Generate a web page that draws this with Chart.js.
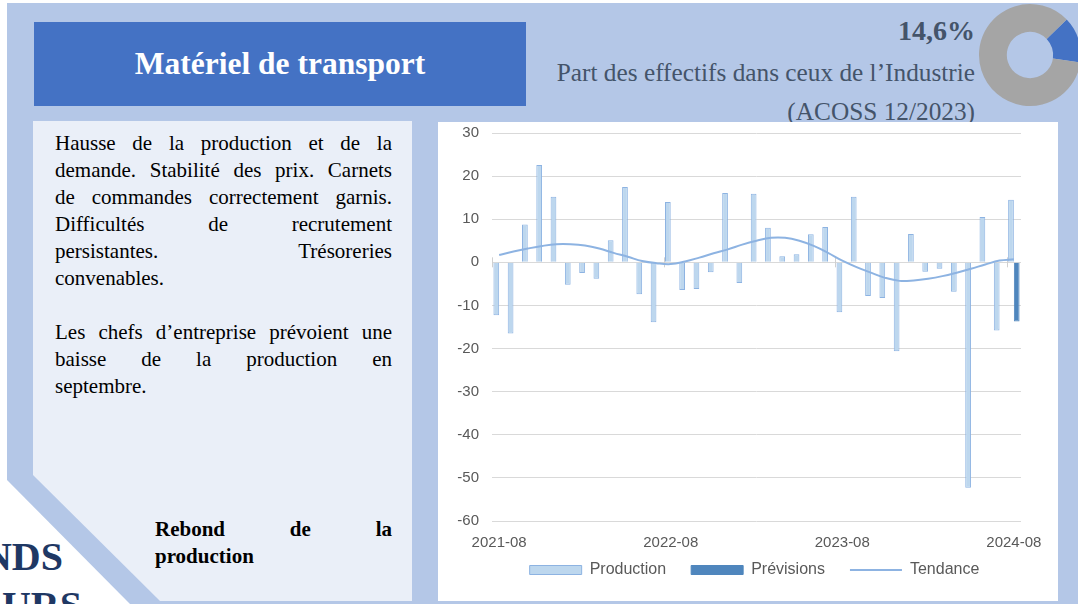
<!DOCTYPE html>
<html>
<head>
<meta charset="utf-8">
<script src="https://cdn.jsdelivr.net/npm/chart.js@4.4.1/dist/chart.umd.min.js"></script>
<style>
html,body{margin:0;padding:0;width:1078px;height:604px;overflow:hidden;background:#ffffff;}
body{position:relative;}
.abs{position:absolute;}
#panel{left:7px;top:3px;width:1071px;height:601px;background:#b4c7e7;
  clip-path:polygon(0 0,100% 0,100% 100%,123px 100%,0 477px);}
#textbox{left:33px;top:121px;width:379px;height:480px;background:#eaeff8;
  clip-path:polygon(0 0,100% 0,100% 100%,127px 100%,0 354px);}
#titlebox{left:34px;top:22px;width:492px;height:84px;background:#4472c4;color:#fff;
  font-family:"Liberation Serif",serif;font-weight:bold;font-size:31.5px;
  display:flex;align-items:center;justify-content:center;}
.serif{font-family:"Liberation Serif",serif;}
.rt{right:103px;text-align:right;white-space:nowrap;color:#44546a;}
.line{font-family:"Liberation Serif",serif;font-size:21px;line-height:27px;height:27px;color:#000;
  text-align:justify;text-align-last:justify;white-space:nowrap;}
.last{text-align:left;text-align-last:left;}
#body1{left:55px;top:130px;width:337px;}
#body2{left:155px;top:516px;width:237px;}
#body2 .line{font-weight:bold;}
#chartbox{left:438px;top:122px;width:620px;height:479px;background:#ffffff;}
.big{font-family:"Liberation Serif",serif;font-weight:bold;font-size:40px;line-height:40px;color:#1f3864;
  white-space:nowrap;text-align:right;}
</style>
</head>
<body>
<div class="abs big" style="right:1015px;top:537px;">GRANDS</div>
<div class="abs big" style="right:996px;top:586px;">SECTEURS</div>
<div id="panel" class="abs"></div>
<div id="textbox" class="abs"></div>
<div id="titlebox" class="abs">Matériel de transport</div>
<div class="abs serif rt" style="top:15px;font-size:28px;line-height:32px;font-weight:bold;">14,6%</div>
<div class="abs serif rt" style="top:57px;font-size:25.3px;line-height:30px;">Part des effectifs dans ceux de l’Industrie</div>
<div class="abs serif rt" style="top:96px;font-size:25.3px;line-height:30px;">(ACOSS 12/2023)</div>
<canvas id="donut" class="abs" width="110" height="110" style="left:975px;top:0px;width:110px;height:110px;"></canvas>

<div id="body1" class="abs">
  <div class="line">Hausse de la production et de la</div>
  <div class="line">demande. Stabilité des prix. Carnets</div>
  <div class="line">de commandes correctement garnis.</div>
  <div class="line">Difficultés de recrutement</div>
  <div class="line">persistantes. Trésoreries</div>
  <div class="line last">convenables.</div>
  <div class="line last">&nbsp;</div>
  <div class="line">Les chefs d’entreprise prévoient une</div>
  <div class="line">baisse de la production en</div>
  <div class="line last">septembre.</div>
</div>
<div id="body2" class="abs">
  <div class="line">Rebond de la</div>
  <div class="line last">production</div>
</div>

<div id="chartbox" class="abs">
  <canvas id="chart" width="620" height="479" style="width:620px;height:479px;"></canvas>
</div>

<script>
// ---- data ----
const months = ["2021-08","2021-09","2021-10","2021-11","2021-12","2022-01","2022-02","2022-03","2022-04","2022-05","2022-06","2022-07",
  "2022-08","2022-09","2022-10","2022-11","2022-12","2023-01","2023-02","2023-03","2023-04","2023-05","2023-06","2023-07",
  "2023-08","2023-09","2023-10","2023-11","2023-12","2024-01","2024-02","2024-03","2024-04","2024-05","2024-06","2024-07","2024-08"];
const production = [-12.3,-16.5,8.8,22.6,15.2,-5.2,-2.5,-3.8,5.1,17.5,-7.4,-13.9,
  14.0,-6.4,-6.2,-2.3,16.1,-4.8,15.9,8.0,1.4,1.9,6.5,8.2,
  -11.6,15.2,-7.8,-8.3,-20.6,6.6,-2.2,-1.5,-6.8,-52.3,10.5,-15.8,14.5];
const previsions = [null,null,null,null,null,null,null,null,null,null,null,null,
  null,null,null,null,null,null,null,null,null,null,null,null,
  null,null,null,null,null,null,null,null,null,null,null,null,-13.7];
const tendance = [1.7,2.5,3.2,3.8,4.2,4.2,3.9,3.2,2.2,1.3,0.3,-0.2,
  -0.4,0.2,1.1,2.1,3.0,4.1,5.0,5.7,5.7,5.0,3.8,2.2,
  0.4,-1.1,-2.4,-3.6,-4.3,-4.2,-3.8,-3.2,-2.4,-1.5,-0.5,0.4,0.7];
const shownTickLabels = ["2021-08","2022-08","2023-08","2024-08"];
const yTicks = {min:-60, max:30, step:10};
const shareLabels = ["Matériel de transport","Autres"];
const shareValues = [14.6, 85.4];

// ---- tick marks on the zero line (between categories, every 12 months) ----
const zeroTicks = {
  id:'zeroTicks',
  beforeDatasetsDraw(chart){
    const x = chart.scales.x, y = chart.scales.y, ctx = chart.ctx;
    const y0 = y.getPixelForValue(0);
    const half = (x.getPixelForValue(1) - x.getPixelForValue(0))/2;
    ctx.save();
    ctx.strokeStyle = '#d0d0d0'; ctx.lineWidth = 1;
    months.forEach((m,i)=>{
      if (shownTickLabels.includes(m)) {
        const px = Math.round(x.getPixelForValue(i) - half) + 0.5;
        ctx.beginPath(); ctx.moveTo(px, y0-5); ctx.lineTo(px, y0+5); ctx.stroke();
      }
    });
    ctx.restore();
  }
};

const textColor = '#595959';
new Chart(document.getElementById('chart'), {
  type:'bar',
  data:{
    labels: months,
    datasets:[
      {label:'Production', data: production, backgroundColor:'#bdd7ee', borderColor:'#8db3e2', borderWidth:1, order:1},
      {label:'Prévisions', data: previsions, backgroundColor:'#4f86bd', borderColor:'#4f86bd', borderWidth:1, order:1},
      {label:'Tendance', type:'line', data: tendance, borderColor:'#8db3e2', backgroundColor:'#8db3e2',
        borderWidth:2, pointRadius:0, tension:0.4, fill:false, order:0}
    ]
  },
  options:{
    responsive:false, animation:false, devicePixelRatio:1,
    layout:{padding:{left:13, right:0, top:11, bottom:13}},
    datasets:{bar:{categoryPercentage:0.8, barPercentage:1.0}},
    scales:{
      x:{
        grid:{display:false}, border:{display:false},
        ticks:{autoSkip:false, maxRotation:0, minRotation:0, padding:5, color:textColor,
          font:{family:'"Liberation Sans", Arial, sans-serif', size:15},
          callback:function(v,i){ const l = months[i]; return shownTickLabels.includes(l) ? l : ''; }},
        afterFit(s){ s.height = 16; s.paddingRight = 37; s._computeLabelArea = function(){ return undefined; }; }
      },
      y:{
        min:yTicks.min, max:yTicks.max,
        grid:{color:'#d9d9d9', lineWidth:1, drawTicks:false}, border:{display:false},
        ticks:{stepSize:yTicks.step, padding:13, color:textColor,
          font:{family:'"Liberation Sans", Arial, sans-serif', size:15}},
        afterFit(s){ s.width = 41; s.paddingTop = 0; s.paddingBottom = 0; }
      }
    },
    plugins:{
      tooltip:{enabled:false},
      legend:{
        position:'bottom',
        labels:{
          usePointStyle:true, pointStyleWidth:52, boxHeight:9, padding:25, color:textColor,
          font:{family:'"Liberation Sans", Arial, sans-serif', size:16},
          generateLabels(chart){
            const items = Chart.defaults.plugins.legend.labels.generateLabels(chart);
            items.forEach(it=>{ it.pointStyle = it.datasetIndex === 2 ? 'line' : 'rect'; });
            items.sort((a,b)=>a.datasetIndex-b.datasetIndex);
            return items;
          }
        }
      }
    }
  },
  plugins:[zeroTicks]
});

new Chart(document.getElementById('donut'), {
  type:'doughnut',
  data:{labels:shareLabels, datasets:[{data:shareValues, backgroundColor:['#4472c4','#a5a5a5'], borderWidth:0}]},
  options:{responsive:false, animation:false, devicePixelRatio:1, rotation:46, radius:51, cutout:25,
    plugins:{legend:{display:false}, tooltip:{enabled:false}}}
});
</script>
</body>
</html>
